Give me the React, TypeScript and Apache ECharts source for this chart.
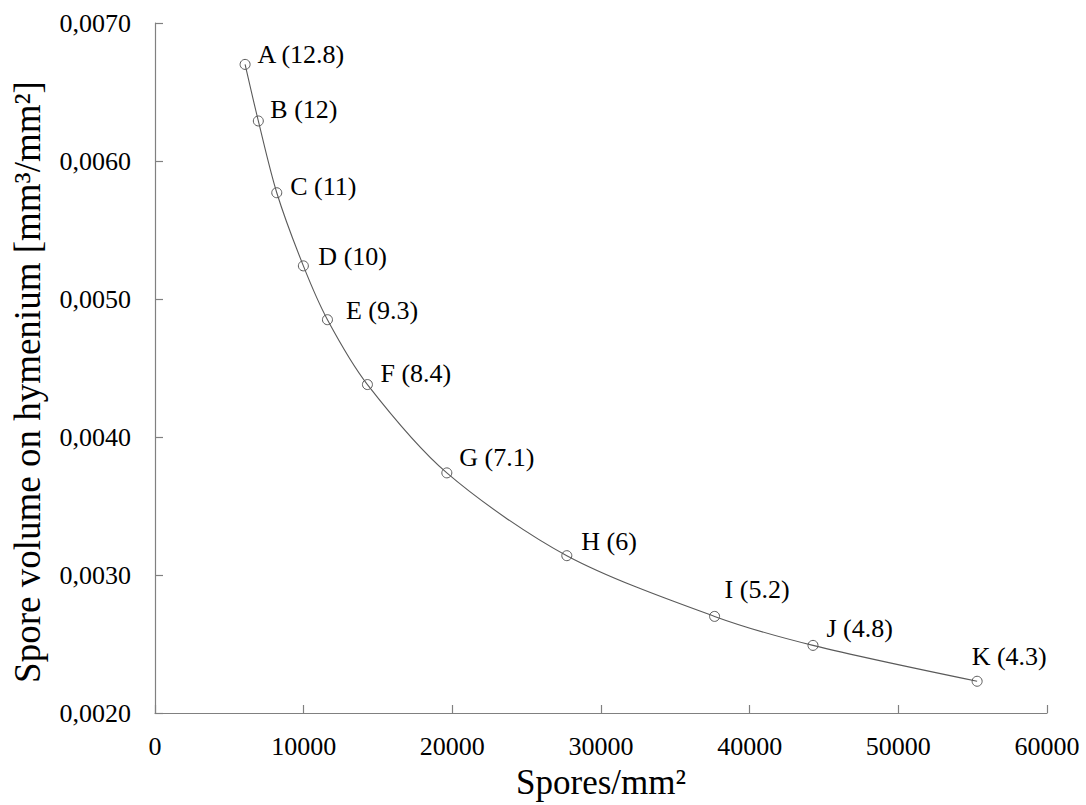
import React, { useEffect, useRef } from "react";
import * as echarts from "echarts";

// Data
const spores = [6060, 6950, 8190, 9980, 11600, 14290, 19630, 27700, 37640, 44260, 55300];
const volume = [0.0067, 0.00629, 0.00577, 0.00524, 0.00485, 0.00438, 0.00374, 0.00314, 0.0027, 0.00249, 0.00223];
const letters = ["A", "B", "C", "D", "E", "F", "G", "H", "I", "J", "K"];
const sporeSizes = [12.8, 12, 11, 10, 9.3, 8.4, 7.1, 6, 5.2, 4.8, 4.3];

// Axis settings
const xMin = 0, xMax = 60000, xInterval = 10000;
const yMin = 0.002, yMax = 0.007, yInterval = 0.001;
const xTitle = "Spores/mm²";
const yTitle = "Spore volume on hymenium [mm³/mm²]";

// Label placement (layout, px)
const labelOffsets: [number, number][] = [
  [2, -10], [1.5, -11.5], [3, -6], [4.5, -9], [8, -9], [2.5, -11],
  [2, -15.5], [4, -14], [-0.5, -27], [3, -17], [-16, -25],
];

const FONT = "Liberation Serif";

export default function App() {
  const ref = useRef<HTMLDivElement>(null);
  useEffect(() => {
    if (!ref.current) return;
    const chart = echarts.init(ref.current, null, { renderer: "svg" });
    const axisGray = "#808080";
    const lineGray = "#5a5a5a";
    chart.setOption({
      animation: false,
      backgroundColor: "#ffffff",
      grid: { left: 155, right: 39, top: 23, bottom: 89 },
      xAxis: {
        type: "value",
        min: xMin,
        max: xMax,
        interval: xInterval,
        name: xTitle,
        nameLocation: "middle",
        nameGap: 52,
        nameTextStyle: { fontFamily: FONT, fontSize: 35, color: "#000" },
        axisLine: { show: true, lineStyle: { color: axisGray, width: 1.2 } },
        axisTick: { show: true, inside: true, length: 8, lineStyle: { color: axisGray, width: 1.2 } },
        axisLabel: {
          fontFamily: FONT, fontSize: 26, color: "#000", margin: 20,
          showMinLabel: true, showMaxLabel: true,
          formatter: (v: number) => String(v),
        },
        splitLine: { show: false },
      },
      yAxis: {
        type: "value",
        min: yMin,
        max: yMax,
        interval: yInterval,
        name: yTitle,
        nameLocation: "middle",
        nameGap: 109,
        nameTextStyle: { fontFamily: FONT, fontSize: 37, color: "#000", padding: [0, 28, 0, 0] },
        axisLine: { show: true, lineStyle: { color: axisGray, width: 1.2 } },
        axisTick: { show: true, inside: true, length: 8, lineStyle: { color: axisGray, width: 1.2 } },
        axisLabel: {
          fontFamily: FONT, fontSize: 26, color: "#000", margin: 24,
          showMinLabel: true, showMaxLabel: true,
          formatter: (v: number) => v.toFixed(4).replace(".", ","),
        },
        splitLine: { show: false },
      },
      series: [
        {
          type: "line",
          smooth: 0.3,
          symbol: "circle",
          symbolSize: 10,
          lineStyle: { color: lineGray, width: 1.1 },
          itemStyle: { color: "rgba(255,255,255,0)", borderColor: lineGray, borderWidth: 1 },
          label: {
            show: true,
            position: "right",
            distance: 5,
            fontFamily: FONT,
            fontSize: 26,
            color: "#000",
            formatter: (p: any) => `${letters[p.dataIndex]} (${sporeSizes[p.dataIndex]})`,
          },
          data: spores.map((x, i) => ({
            value: [x, volume[i]],
            label: { offset: labelOffsets[i] },
          })),
        },
      ],
    });
    return () => chart.dispose();
  }, []);
  return (
    <div
      ref={ref}
      style={{ position: "fixed", left: 0, top: 0, width: 1086, height: 805, background: "#fff" }}
    />
  );
}
